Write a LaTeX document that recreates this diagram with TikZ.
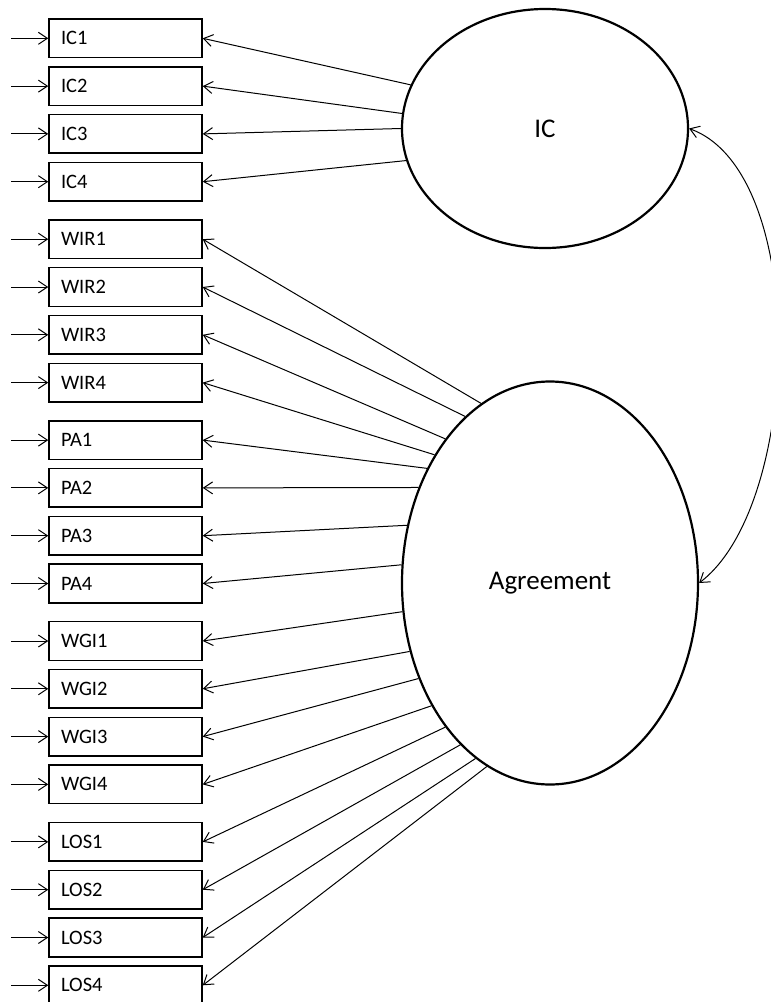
\documentclass[tikz,border=0pt]{standalone}
\usepackage{fontspec}
\setmainfont{Carlito}
\usetikzlibrary{shapes.geometric,arrows.meta}

\begin{document}
\begin{tikzpicture}[x=1pt,y=1pt,
  indicator/.style={draw, line width=1.5pt, inner xsep=12pt, inner ysep=0pt,
    text width=129pt, minimum height=38.6pt, align=left,
    font=\fontsize{20.5}{24}\selectfont},
  latent/.style={draw, ellipse, line width=2.2pt, inner sep=0pt,
    font=\fontsize{27}{32}\selectfont},
  barb/.tip={Straight Barb[length=9pt,width=12pt]},
  link/.style={line width=1pt, -barb},
]
\useasboundingbox (0,0) rectangle (771,-1002);

% latent variables
\node[latent, minimum width=286pt, minimum height=239pt] (ic) at (545,-128.5) {IC};
\node[latent, minimum width=296pt, minimum height=403pt] (agr) at (550,-583) {Agreement};

% observed indicators, four per block, each with its error arrow
\foreach \lab [count=\i from 0] in {IC1,IC2,IC3,IC4,WIR1,WIR2,WIR3,WIR4,PA1,PA2,PA3,PA4,WGI1,WGI2,WGI3,WGI4,LOS1,LOS2,LOS3,LOS4} {
  \pgfmathtruncatemacro\g{\i/4}
  \pgfmathtruncatemacro\k{\i-4*\g}
  \pgfmathsetmacro\yy{-(38.3 + 200.9*\g + 47.8*\k)}
  \node[indicator] (\lab) at (125.5,\yy) {\lab};
  \coordinate (e\lab) at (11,\yy);
  \draw[link] (e\lab) -- (\lab.west);
}

% loadings
\foreach \lab/\ang in {IC1/162, IC2/174, IC3/180, IC4/193}
  \draw[link] (ic.\ang) -- (\lab.east);
\foreach \lab/\ang in {WIR1/111, WIR2/117, WIR3/126, WIR4/132,
                       PA1/137, PA2/144, PA3/158, PA4/173,
                       WGI1/191, WGI2/206, WGI3/216, WGI4/226,
                       LOS1/234, LOS2/241, LOS3/247, LOS4/251}
  \draw[link] (agr.\ang) -- (\lab.east);

% covariance between the latent variables
\draw[line width=1pt, barb-barb] (ic.east) .. controls +(121,-44) and +(103,78) .. (agr.east);
\end{tikzpicture}
\end{document}
